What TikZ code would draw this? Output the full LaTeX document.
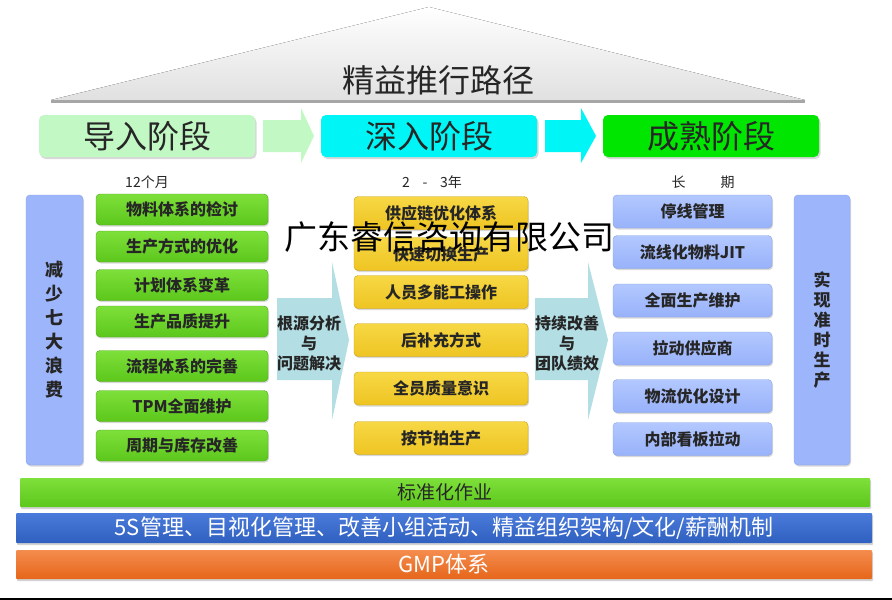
\documentclass[tikz,border=0pt]{standalone}
\usepackage{fontspec}
\setmainfont{Noto Sans CJK SC}
\usetikzlibrary{shadows}
\definecolor{txt}{HTML}{262626}
\definecolor{limeA}{HTML}{7EE03A}
\definecolor{limeB}{HTML}{5CC71C}
\definecolor{limeC}{HTML}{4CA816}
\definecolor{goldA}{HTML}{F7D845}
\definecolor{goldB}{HTML}{EEC422}
\definecolor{goldC}{HTML}{C9A214}
\definecolor{skyA}{HTML}{B3C8FF}
\definecolor{skyB}{HTML}{98B2FA}
\definecolor{skyC}{HTML}{8AA3E6}
\definecolor{mint}{HTML}{C2F8C4}
\definecolor{aqua}{HTML}{00F6F6}
\definecolor{leaf}{HTML}{00E600}
\definecolor{pale}{HTML}{B2DEE4}
\definecolor{navyA}{HTML}{4A7BDB}
\definecolor{navyB}{HTML}{2F5FBF}
\definecolor{rustA}{HTML}{F48C4E}
\definecolor{rustB}{HTML}{E6661A}
\begin{document}
\begin{tikzpicture}[x=1pt,y=-1pt,
    cell/.style={rounded corners=4pt,inner sep=0pt,text=txt,
      font=\bfseries\fontsize{16}{18}\selectfont,
      drop shadow={shadow xshift=1pt,shadow yshift=-1.5pt,opacity=0.3}},
    limebox/.style={cell,minimum width=172pt,minimum height=31pt,top color=limeA,bottom color=limeB,draw=limeC},
    goldbox/.style={cell,minimum width=174pt,minimum height=33pt,top color=goldA,bottom color=goldB,draw=goldC},
    skybox/.style={cell,minimum width=159pt,minimum height=33pt,top color=skyA,bottom color=skyB,draw=skyC},
    pillar/.style={cell,minimum width=56pt,minimum height=270pt,fill=skyB!80!skyA,draw=skyC,align=center},
    phase/.style={rounded corners=5pt,minimum width=216pt,minimum height=42pt,inner sep=0pt,text=txt,
      font=\fontsize{32}{36}\selectfont,
      drop shadow={shadow xshift=1.5pt,shadow yshift=-2pt,opacity=0.3}},
    span/.style={text=txt,font=\fontsize{14}{16}\selectfont},
    band/.style={rounded corners=1pt,inner sep=0pt,
      drop shadow={shadow xshift=1pt,shadow yshift=-2pt,opacity=0.35}},
    ]
    \useasboundingbox (0,0) rectangle (892,600);
    \fill[white] (0,0) rectangle (892,600);
    \fill[black] (0,597.5) rectangle (892,600);

    \fill[top color=white,bottom color=black!12] (429,7) -- (805,100) -- (51,100) -- cycle;
    \draw[black!35,line width=3pt] (51,101) -- (805,101);
    \node[text=txt,font=\fontsize{32}{36}\selectfont] (roof) at (438,80) {精益推行路径};

    \node[phase,fill=mint] (p1) at (147,136) {导入阶段};
    \node[phase,fill=aqua] (p2) at (429,136) {深入阶段};
    \node[phase,fill=leaf] (p3) at (711,136) {成熟阶段};
    \fill[mint] (263,120) -- (301,120) -- (301,108) -- (314,136) -- (301,163) -- (301,152) -- (263,152) -- cycle;
    \fill[aqua] (545,120) -- (581,120) -- (581,108) -- (596,136) -- (581,163) -- (581,152) -- (545,152) -- cycle;

    \node[span] (t1) at (147,182) {12个月};
    \node[span] (t2) at (432,182) {2\hspace{0.9em}-\hspace{0.9em}3年};
    \node[span] (t3) at (703,182) {长\hspace{2.5em}期};

    \node[pillar,minimum width=57pt,font=\bfseries\fontsize{18}{24}\selectfont] (l0) at (54.5,330) {减\\少\\七\\大\\浪\\费};
    \node[pillar,font=\bfseries\fontsize{17}{20}\selectfont] (r0) at (822,330) {实\\现\\准\\时\\生\\产};

    \node[limebox] (g1) at (182,209.5) {物料体系的检讨};
    \node[limebox] (g2) at (182,246.5) {生产方式的优化};
    \node[limebox] (g3) at (182,285) {计划体系变革};
    \node[limebox] (g4) at (182,321.5) {生产品质提升};
    \node[limebox] (g5) at (182,366) {流程体系的完善};
    \node[limebox] (g6) at (182,406) {TPM全面维护};
    \node[limebox] (g7) at (182,445.5) {周期与库存改善};

    \node[goldbox] (y1) at (441,213) {供应链优化体系};
    \node[goldbox] (y2) at (441,254) {快速切换生产};
    \node[goldbox] (y3) at (441,292) {人员多能工操作};
    \node[goldbox] (y4) at (441,340) {后补充方式};
    \node[goldbox] (y5) at (441,388.5) {全员质量意识};
    \node[goldbox] (y6) at (441,438) {按节拍生产};

    \node[skybox] (b1) at (692.5,211.5) {停线管理};
    \node[skybox] (b2) at (692.5,252) {流线化物料JIT};
    \node[skybox] (b3) at (692.5,300.5) {全面生产维护};
    \node[skybox] (b4) at (692.5,348.5) {拉动供应商};
    \node[skybox] (b5) at (692.5,396) {物流优化设计};
    \node[skybox] (b6) at (692.5,439) {内部看板拉动};

    \fill[pale] (277,298) -- (332,298) -- (332,262) -- (349,340) -- (332,420) -- (332,380) -- (277,380) -- cycle;
    \fill[pale] (535,298) -- (588,298) -- (588,262) -- (608,340) -- (588,420) -- (588,380) -- (535,380) -- cycle;
    \node[align=center,text=txt,font=\bfseries\fontsize{16}{20}\selectfont] (m1) at (309,343) {根源分析\\与\\问题解决};
    \node[align=center,text=txt,font=\bfseries\fontsize{16}{20}\selectfont] (m2) at (567,343) {持续改善\\与\\团队绩效};

    \node[band,minimum width=850pt,minimum height=29pt,top color=limeA,bottom color=limeB,text=txt,
      font=\fontsize{19}{21}\selectfont] (s1) at (445,492.5) {标准化作业};
    \node[band,minimum width=856pt,minimum height=30pt,top color=navyA,bottom color=navyB,text=white,
      font=\fontsize{22}{24}\selectfont] (s2) at (444,528) {5S管理、目视化管理、改善小组活动、精益组织架构/文化/薪酬机制};
    \node[band,minimum width=856pt,minimum height=29pt,top color=rustA,bottom color=rustB,text=white,
      font=\fontsize{22}{24}\selectfont] (s3) at (444,564.5) {GMP体系};

    \node[text=black,font=\fontsize{33}{36}\selectfont] (w) at (449,237) {广东睿信咨询有限公司};
\end{tikzpicture}
\end{document}
